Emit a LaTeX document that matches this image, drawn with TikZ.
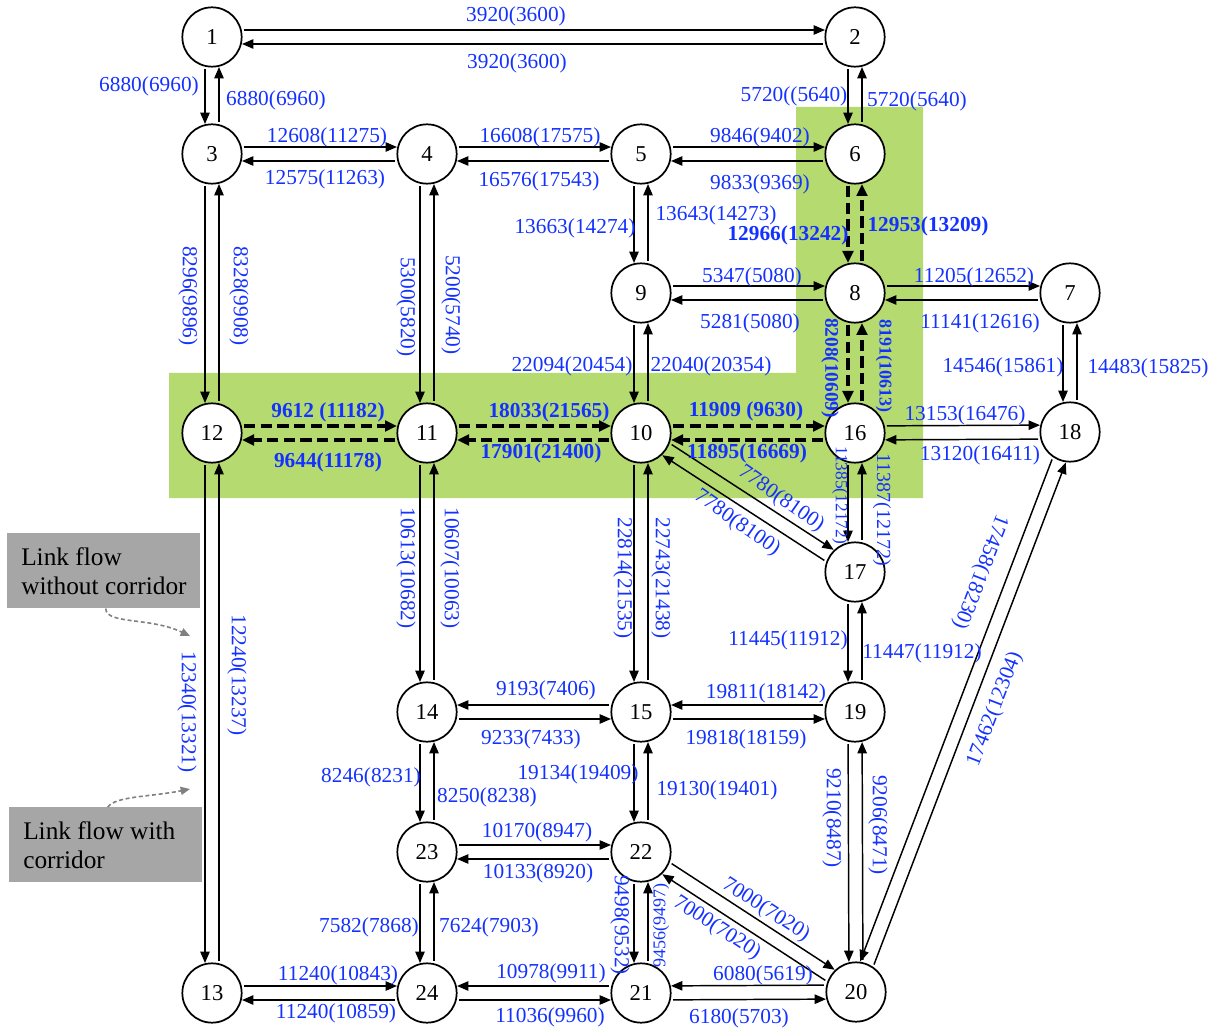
\documentclass[tikz,border=0pt]{standalone}
\usepackage{fontspec}
\setmainfont{Liberation Serif}
\usetikzlibrary{arrows.meta,calc}
\definecolor{flowblue}{RGB}{20,50,255}
\definecolor{corridor}{RGB}{180,218,112}
\definecolor{legendgray}{RGB}{166,166,166}
\definecolor{hintgray}{RGB}{128,128,128}
\newcommand\linkoff{5.25pt}
% two opposite one-way links between a pair of zones;
% #4 empty: each link runs on its own left, #4 = -: on its own right
\newcommand\linkpair[4][flow]{%
  \draw[#1] ($(#2.center)!#4\linkoff!90:(#3.center)$) -- ($(#3.center)!#4\linkoff!-90:(#2.center)$);
  \draw[#1] ($(#3.center)!#4\linkoff!90:(#2.center)$) -- ($(#2.center)!#4\linkoff!-90:(#3.center)$);}
\tikzset{
  zone/.style={circle, draw, line width=1.3pt, fill=white, minimum size=44.5pt,
    inner sep=0pt, font=\fontsize{17}{17}\selectfont},
  flow/.style={line width=1.1pt, -{Triangle[length=8.5pt,width=7pt]},
    shorten <=24pt, shorten >=22.5pt},
  corr/.style={flow, line width=2.5pt, dash pattern=on 8.5pt off 4pt,
    -{Triangle[length=9pt,width=8pt]}},
  lab/.style={text=flowblue, inner sep=0pt, font=\fontsize{16}{16}\selectfont},
  blab/.style={lab, font=\fontsize{16}{16}\selectfont\bfseries},
  keybox/.style={fill=legendgray, minimum width=144.75pt, minimum height=56.25pt,
    inner sep=0pt, anchor=north west},
  keytext/.style={anchor=west, align=left, inner sep=0pt,
    font=\fontsize{19}{21.75}\selectfont},
  hint/.style={draw=hintgray, line width=1.2pt, dash pattern=on 3pt off 2pt,
    -{Triangle[length=7pt,width=6pt]}, hintgray}
}
\begin{document}
\begin{tikzpicture}[x=0.75pt, y=-0.75pt]
\useasboundingbox (0,0) rectangle (1224,1030);

% corridor band
\fill[corridor] (169,373) -- (796,373) -- (796,107) -- (923,107)
  -- (923,498) -- (169,498) -- cycle;

% zones
\node[zone] (n1)  at (212,37)  {1};
\node[zone] (n2)  at (855,37)  {2};
\node[zone] (n3)  at (212,154) {3};
\node[zone] (n4)  at (427,154) {4};
\node[zone] (n5)  at (641,154) {5};
\node[zone] (n6)  at (855,154) {6};
\node[zone] (n7)  at (1070,293) {7};
\node[zone] (n8)  at (855,293) {8};
\node[zone] (n9)  at (641,293) {9};
\node[zone] (n10) at (641,433) {10};
\node[zone] (n11) at (427,433) {11};
\node[zone] (n12) at (212,433) {12};
\node[zone] (n13) at (212,993) {13};
\node[zone] (n14) at (427,712) {14};
\node[zone] (n15) at (641,712) {15};
\node[zone] (n16) at (855,433) {16};
\node[zone] (n17) at (855,572) {17};
\node[zone] (n18) at (1070,432) {18};
\node[zone] (n19) at (855,712) {19};
\node[zone] (n20) at (856,992) {20};
\node[zone] (n21) at (641,993) {21};
\node[zone] (n22) at (641,852) {22};
\node[zone] (n23) at (427,852) {23};
\node[zone] (n24) at (427,993) {24};

% links
\linkpair{n1}{n2}{}
\linkpair{n1}{n3}{-}
\linkpair{n2}{n6}{-}
\linkpair{n3}{n4}{}
\linkpair{n4}{n5}{}
\linkpair{n5}{n6}{}
\linkpair{n3}{n12}{-}
\linkpair{n4}{n11}{-}
\linkpair{n5}{n9}{-}
\linkpair[corr]{n6}{n8}{-}
\linkpair{n9}{n8}{}
\linkpair{n8}{n7}{}
\linkpair{n7}{n18}{-}
\linkpair{n9}{n10}{-}
\linkpair[corr]{n8}{n16}{-}
\linkpair[corr]{n12}{n11}{}
\linkpair[corr]{n11}{n10}{}
\linkpair[corr]{n10}{n16}{}
\linkpair{n16}{n18}{}
\linkpair{n12}{n13}{-}
\linkpair{n11}{n14}{-}
\linkpair{n10}{n15}{-}
\linkpair{n10}{n17}{}
\linkpair{n16}{n17}{-}
\linkpair{n17}{n19}{-}
\linkpair{n14}{n15}{-}
\linkpair{n15}{n19}{-}
\linkpair{n14}{n23}{-}
\linkpair{n15}{n22}{-}
\linkpair{n19}{n20}{-}
\linkpair{n23}{n22}{}
\linkpair{n22}{n21}{-}
\linkpair{n22}{n20}{}
\linkpair{n18}{n20}{-}
\linkpair{n13}{n24}{}
\linkpair{n24}{n21}{-}
\linkpair{n21}{n20}{-}
\linkpair{n23}{n24}{-}

% link flows: without corridor (with corridor)
\node[lab] (t1) at (516,16) {3920(3600)};
\node[lab] (t2) at (517,63) {3920(3600)};
\node[lab] (t3) at (149,86) {6880(6960)};
\node[lab] (t4) at (276,100) {6880(6960)};
\node[lab] (t5) at (794,96) {5720((5640)};
\node[lab] (t6) at (917,101) {5720(5640)};
\node[lab] (t7) at (327,137) {12608(11275)};
\node[lab] (t8) at (325,179) {12575(11263)};
\node[lab] (t9) at (540,137) {16608(17575)};
\node[lab] (t10) at (539,181) {16576(17543)};
\node[lab] (t11) at (760,137) {9846(9402)};
\node[lab] (t12) at (760,184) {9833(9369)};
\node[lab,rotate=-90] (t13) at (188,296) {8296(9896)};
\node[lab,rotate=-90] (t14) at (239,296) {8328(9908)};
\node[lab,rotate=-90] (t15) at (406,307) {5300(5820)};
\node[lab,rotate=-90] (t16) at (451,305) {5200(5740)};
\node[lab] (t17) at (575,228) {13663(14274)};
\node[lab] (t18) at (716,215) {13643(14273)};
\node[blab] (t19) at (788,235) {12966(13242)};
\node[blab] (t20) at (928,226) {12953(13209)};
\node[lab] (t21) at (752,277) {5347(5080)};
\node[lab] (t22) at (750,323) {5281(5080)};
\node[lab] (t23) at (974,277) {11205(12652)};
\node[lab] (t24) at (980,323) {11141(12616)};
\node[lab] (t25) at (1003,367) {14546(15861)};
\node[lab] (t26) at (1148,368) {14483(15825)};
\node[lab] (t27) at (572,366) {22094(20454)};
\node[lab] (t28) at (711,366) {22040(20354)};
\node[blab,rotate=-90,font=\fontsize{14.5}{14.5}\selectfont\bfseries] (t29) at (830,368) {8208(10609)};
\node[blab,rotate=-90,font=\fontsize{13.5}{13.5}\selectfont\bfseries] (t30) at (884,366) {8191(10613)};
\node[blab] (t31) at (328,412) {9612 (11182)};
\node[blab] (t32) at (328,462) {9644(11178)};
\node[blab] (t33) at (549,412) {18033(21565)};
\node[blab] (t34) at (541,453) {17901(21400)};
\node[blab] (t35) at (746,411) {11909 (9630)};
\node[blab] (t36) at (747,453) {11895(16669)};
\node[lab] (t37) at (965,415) {13153(16476)};
\node[lab] (t38) at (980,455) {13120(16411)};
\node[lab,rotate=-90] (t39) at (187,712) {12340(13321)};
\node[lab,rotate=-90] (t40) at (237,675) {12240(13237)};
\node[lab,rotate=-90] (t41) at (406,568) {10613(10682)};
\node[lab,rotate=-90] (t42) at (450,568) {10607(10063)};
\node[lab,rotate=-90] (t43) at (623,578) {22814(21535)};
\node[lab,rotate=-90] (t44) at (661,578) {22743(21438)};
\node[lab,rotate=-35] (t45) at (781,499) {7780(8100)};
\node[lab,rotate=-35] (t46) at (737,523) {7780(8100)};
\node[lab,rotate=-90,font=\fontsize{13}{13}\selectfont] (t47) at (840,495) {11385(12172)};
\node[lab,rotate=-90,font=\fontsize{15}{15}\selectfont] (t48) at (882,510) {11387(12172)};
\node[lab] (t49) at (788,640) {11445(11912)};
\node[lab] (t50) at (922,653) {11447(11912)};
\node[lab] (t51) at (546,690) {9193(7406)};
\node[lab] (t52) at (531,739) {9233(7433)};
\node[lab] (t53) at (766,693) {19811(18142)};
\node[lab] (t54) at (746,739) {19818(18159)};
\node[lab] (t55) at (371,777) {8246(8231)};
\node[lab] (t56) at (487,797) {8250(8238)};
\node[lab] (t57) at (578,774) {19134(19409)};
\node[lab] (t58) at (717,790) {19130(19401)};
\node[lab,rotate=-90] (t59) at (832,818) {9210(8487)};
\node[lab,rotate=-90] (t60) at (878,825) {9206(8471)};
\node[lab] (t61) at (537,832) {10170(8947)};
\node[lab] (t62) at (538,873) {10133(8920)};
\node[lab,rotate=-90] (t63) at (620,925) {9498(9532)};
\node[lab,rotate=90,font=\fontsize{13.5}{13.5}\selectfont] (t64) at (661,925) {9456(9497)};
\node[lab,rotate=-33] (t65) at (766,910) {7000(7020)};
\node[lab,rotate=-33] (t66) at (717,928) {7000(7020)};
\node[lab] (t67) at (763,975) {6080(5619)};
\node[lab] (t68) at (739,1018) {6180(5703)};
\node[lab] (t69) at (369,927) {7582(7868)};
\node[lab] (t70) at (489,927) {7624(7903)};
\node[lab] (t71) at (338,975) {11240(10843)};
\node[lab] (t72) at (336,1013) {11240(10859)};
\node[lab] (t73) at (551,973) {10978(9911)};
\node[lab] (t74) at (550,1017) {11036(9960)};
\node[lab,rotate=-111] (t75) at (980,572) {17458(18230)};
\node[lab,rotate=69] (t76) at (995,709) {17462(12304)};

% key
\node[keybox] (key1) at (7,533) {};
\node[keytext] (key1t) at ([xshift=10.5pt]key1.west) {Link flow\\without corridor};
\node[keybox] (key2) at (9,807) {};
\node[keytext] (key2t) at ([xshift=10.5pt]key2.west) {Link flow with\\corridor};
\coordinate (hint1) at (190,636);
\coordinate (hint2) at (190,789);
\draw[hint] ([xshift=1.5pt]key1.south) .. controls +(0,16) and (150,617) .. (hint1);
\draw[hint] ([xshift=1.5pt]key2.north) .. controls +(8,-11) and (150,797) .. (hint2);
\end{tikzpicture}
\end{document}
